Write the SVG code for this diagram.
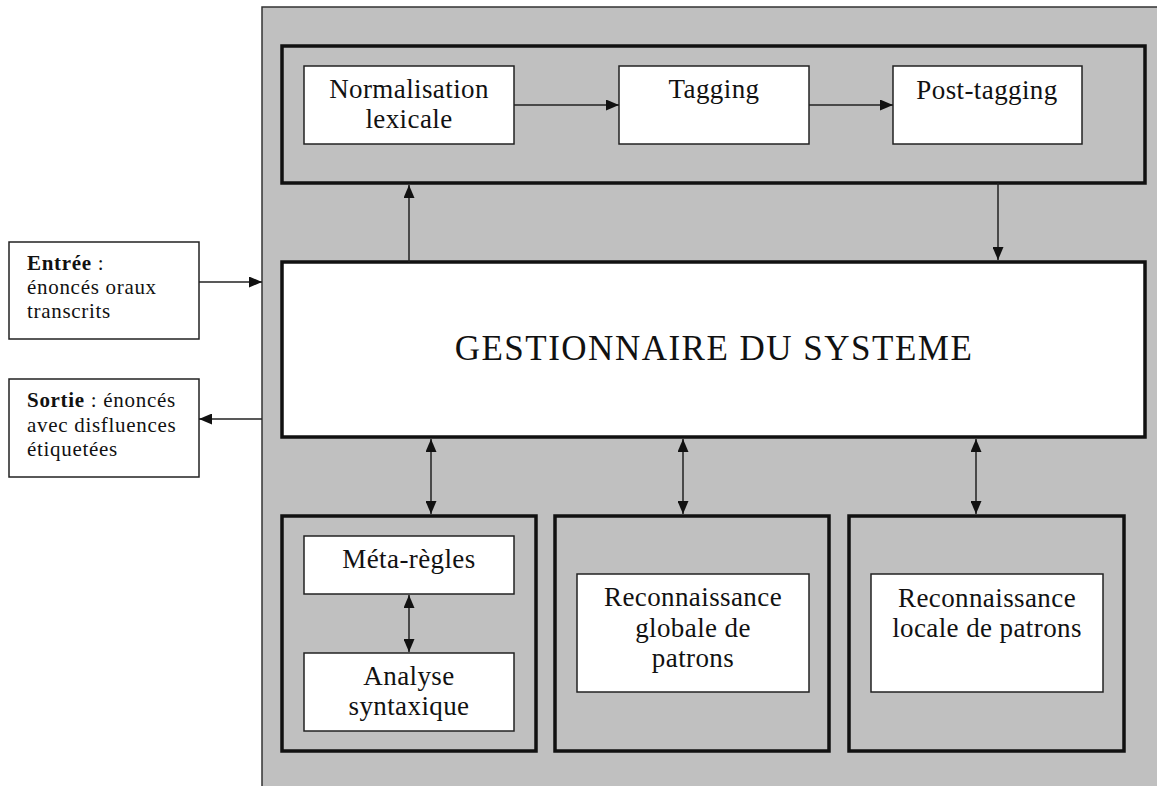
<svg xmlns="http://www.w3.org/2000/svg" width="1157" height="786" viewBox="0 0 1157 786">
<defs>
<style>
.bg{fill:#c0c0c0;stroke:#333;stroke-width:1.5}
.grp{fill:#c0c0c0;stroke:#111;stroke-width:3.5}
.box{fill:#fff;stroke:#222;stroke-width:1.5}
.big{fill:#fff;stroke:#111;stroke-width:3.5}
.t{font-family:"Liberation Serif","Times New Roman",serif;font-size:27px;fill:#111;text-anchor:middle;letter-spacing:0.4px}
.s{font-family:"Liberation Serif","Times New Roman",serif;font-size:21px;fill:#111;letter-spacing:0.7px}
.g{font-family:"Liberation Serif","Times New Roman",serif;font-size:35px;fill:#111;text-anchor:middle;letter-spacing:1.5px}
.c{stroke:#222;stroke-width:1.5;fill:none}
</style>
<marker id="ah" viewBox="0 0 13 11" refX="13" refY="5.5" markerWidth="13" markerHeight="11" markerUnits="userSpaceOnUse" orient="auto-start-reverse">
<path d="M0,0 L13,5.5 L0,11 Z" fill="#111"/>
</marker>
</defs>
<rect width="1157" height="786" fill="#fff"/>
<rect id="systeme" class="bg" x="262" y="7" width="900" height="790"/>
<g id="entree">
<rect class="box" x="9" y="242" width="190" height="97"/>
<text class="s" x="27" y="270"><tspan font-weight="bold">Entrée</tspan> :</text>
<text class="s" x="27" y="294">énoncés oraux</text>
<text class="s" x="27" y="318">transcrits</text>
</g>
<g id="sortie">
<rect class="box" x="9" y="379" width="190" height="98"/>
<text class="s" x="27" y="407"><tspan font-weight="bold">Sortie</tspan> : énoncés</text>
<text class="s" x="27" y="432">avec disfluences</text>
<text class="s" x="27" y="456">étiquetées</text>
</g>
<g id="pretraitement">
<rect class="grp" x="282" y="46" width="863" height="137"/>
</g>
<g id="normalisation">
<rect class="box" x="304" y="66" width="210" height="78"/>
<text class="t" x="409" y="98">Normalisation</text>
<text class="t" x="409" y="128">lexicale</text>
</g>
<g id="tagging">
<rect class="box" x="619" y="66" width="190" height="78"/>
<text class="t" x="714" y="98">Tagging</text>
</g>
<g id="posttagging">
<rect class="box" x="893" y="66" width="189" height="78"/>
<text class="t" x="987" y="99">Post-tagging</text>
</g>
<g id="gestionnaire">
<rect class="big" x="282" y="262" width="863" height="175"/>
<text class="g" x="714" y="360">GESTIONNAIRE DU SYSTEME</text>
</g>
<g id="syntaxe">
<rect class="grp" x="282" y="516" width="254" height="235"/>
</g>
<g id="metaregles">
<rect class="box" x="304" y="536" width="210" height="58"/>
<text class="t" x="409" y="568">Méta-règles</text>
</g>
<g id="analyse">
<rect class="box" x="304" y="653" width="210" height="78"/>
<text class="t" x="409" y="685">Analyse</text>
<text class="t" x="409" y="715">syntaxique</text>
</g>
<g id="globale-groupe">
<rect class="grp" x="555" y="516" width="274" height="235"/>
</g>
<g id="globale">
<rect class="box" x="577" y="574" width="232" height="118"/>
<text class="t" x="693" y="606">Reconnaissance</text>
<text class="t" x="693" y="637">globale de</text>
<text class="t" x="693" y="667">patrons</text>
</g>
<g id="locale-groupe">
<rect class="grp" x="849" y="516" width="275" height="235"/>
</g>
<g id="locale">
<rect class="box" x="871" y="574" width="232" height="118"/>
<text class="t" x="987" y="607">Reconnaissance</text>
<text class="t" x="987" y="637">locale de patrons</text>
</g>
<g id="connecteurs">
<line class="c" x1="199" y1="282" x2="262" y2="282" marker-end="url(#ah)"/>
<line class="c" x1="262" y1="419" x2="199" y2="419" marker-end="url(#ah)"/>
<line class="c" x1="514" y1="105" x2="619" y2="105" marker-end="url(#ah)"/>
<line class="c" x1="809" y1="105" x2="893" y2="105" marker-end="url(#ah)"/>
<line class="c" x1="409" y1="262" x2="409" y2="185" marker-end="url(#ah)"/>
<line class="c" x1="998" y1="183" x2="998" y2="260" marker-end="url(#ah)"/>
<line class="c" x1="431" y1="439" x2="431" y2="514" marker-start="url(#ah)" marker-end="url(#ah)"/>
<line class="c" x1="683" y1="439" x2="683" y2="514" marker-start="url(#ah)" marker-end="url(#ah)"/>
<line class="c" x1="976" y1="439" x2="976" y2="514" marker-start="url(#ah)" marker-end="url(#ah)"/>
<line class="c" x1="409" y1="595" x2="409" y2="652" marker-start="url(#ah)" marker-end="url(#ah)"/>
</g>
</svg>
